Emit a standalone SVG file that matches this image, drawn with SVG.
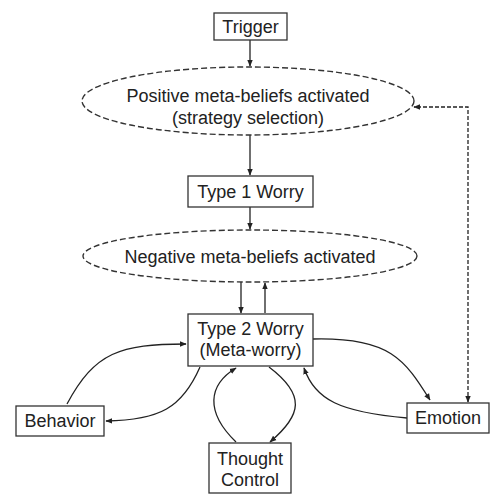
<svg xmlns="http://www.w3.org/2000/svg" width="490" height="494" viewBox="0 0 490 494">
<defs>
<marker id="ah" viewBox="0 0 10 10" refX="9" refY="5" markerWidth="7" markerHeight="7" orient="auto-start-reverse" markerUnits="userSpaceOnUse">
<path d="M0,1 L10,5 L0,9 z" fill="#222"/>
</marker>
<style>
.box{fill:#fff;stroke:#333;stroke-width:1.3}
.ell{fill:#fff;stroke:#333;stroke-width:1.4;stroke-dasharray:6 3}
.t{font-family:"Liberation Sans",Arial,sans-serif;font-size:18px;fill:#222;text-anchor:middle}
.c{fill:none;stroke:#222;stroke-width:1.3;marker-end:url(#ah)}
.d{fill:none;stroke:#222;stroke-width:1.3;stroke-dasharray:4 2;marker-end:url(#ah);marker-start:url(#ah)}
</style>
</defs>
<rect width="490" height="494" fill="#fff"/>
<g id="connectors">
<path class="c" d="M250,40 L250,66"/>
<path class="c" d="M250,135 L250,175"/>
<path class="c" d="M250,207 L250,229"/>
<path class="c" d="M241,282 L241,313"/>
<path class="c" d="M265,313 L265,283"/>
<path class="d" d="M468,402 L468,107 L414,107"/>
<path class="c" d="M67,404 C95,352 120,344 186,344"/>
<path class="c" d="M200,367 C182,408 160,420 106,421"/>
<path class="c" d="M236,442 C205,412 208,385 236,368"/>
<path class="c" d="M269,367 C306,395 302,415 270,442"/>
<path class="c" d="M313,339 C390,337 405,360 430,400"/>
<path class="c" d="M407,418 C340,412 315,400 304,368"/>
</g>
<g id="trigger">
<rect class="box" x="214" y="13" width="73" height="27"/>
<text class="t" x="250.5" y="33">Trigger</text>
</g>
<g id="positive">
<ellipse class="ell" cx="248" cy="101" rx="166" ry="34"/>
<text class="t" x="248" y="102">Positive meta-beliefs activated</text>
<text class="t" x="248" y="124">(strategy selection)</text>
</g>
<g id="type1">
<rect class="box" x="188" y="176" width="125" height="31"/>
<text class="t" x="250.5" y="198">Type 1 Worry</text>
</g>
<g id="negative">
<ellipse class="ell" cx="250" cy="256" rx="167" ry="26"/>
<text class="t" x="250" y="263">Negative meta-beliefs activated</text>
</g>
<g id="type2">
<rect class="box" x="188" y="314" width="125" height="52"/>
<text class="t" x="250.5" y="335">Type 2 Worry</text>
<text class="t" x="250.5" y="356">(Meta-worry)</text>
</g>
<g id="behavior">
<rect class="box" x="16" y="406" width="88" height="30"/>
<text class="t" x="60" y="427">Behavior</text>
</g>
<g id="emotion">
<rect class="box" x="407" y="403" width="82" height="30"/>
<text class="t" x="448" y="424">Emotion</text>
</g>
<g id="thought">
<rect class="box" x="209" y="443" width="82" height="50"/>
<text class="t" x="250" y="465">Thought</text>
<text class="t" x="250" y="486">Control</text>
</g>
</svg>
